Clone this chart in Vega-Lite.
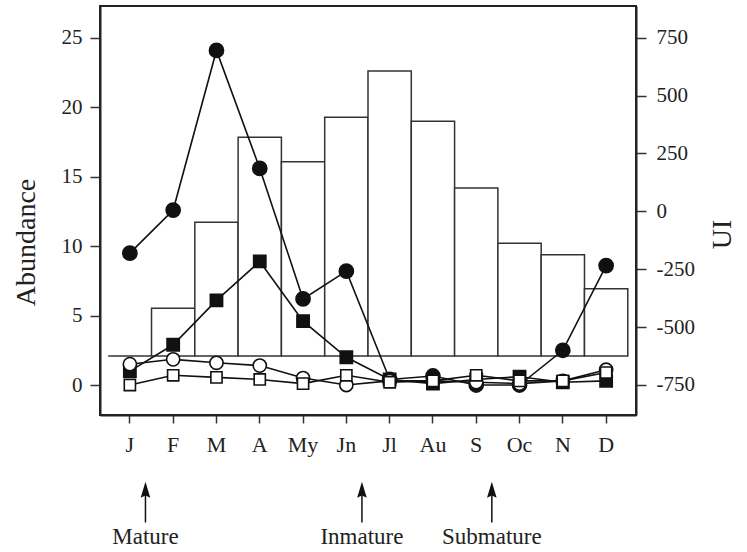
{
  "$schema": "https://vega.github.io/schema/vega-lite/v6.json",
  "width": 536,
  "height": 409,
  "autosize": {"type": "none"},
  "padding": {"left": 100, "top": 6, "right": 111, "bottom": 137},
  "config": {
    "font": "Liberation Serif",
    "view": {"stroke": "#222", "strokeWidth": 2},
    "axis": {
      "labelFont": "Liberation Serif",
      "titleFont": "Liberation Serif",
      "labelFontSize": 21,
      "titleFontSize": 28,
      "titleFontWeight": "normal",
      "labelColor": "#222",
      "titleColor": "#222",
      "domainColor": "#222",
      "domainWidth": 2,
      "tickColor": "#333",
      "tickWidth": 1.5,
      "tickSize": 10,
      "grid": false
    }
  },
  "datasets": {
    "bars": [
      {"month": "J", "UI": -625},
      {"month": "F", "UI": -419},
      {"month": "M", "UI": -47},
      {"month": "A", "UI": 320},
      {"month": "My", "UI": 214},
      {"month": "Jn", "UI": 406},
      {"month": "Jl", "UI": 606},
      {"month": "Au", "UI": 389},
      {"month": "S", "UI": 101},
      {"month": "Oc", "UI": -138},
      {"month": "N", "UI": -188},
      {"month": "D", "UI": -335}
    ],
    "pts": [
      {"month": "J", "series": "filled circle", "value": 9.5},
      {"month": "F", "series": "filled circle", "value": 12.6},
      {"month": "M", "series": "filled circle", "value": 24.1},
      {"month": "A", "series": "filled circle", "value": 15.6},
      {"month": "My", "series": "filled circle", "value": 6.2},
      {"month": "Jn", "series": "filled circle", "value": 8.2},
      {"month": "Jl", "series": "filled circle", "value": 0.4},
      {"month": "Au", "series": "filled circle", "value": 0.65},
      {"month": "S", "series": "filled circle", "value": 0.0},
      {"month": "Oc", "series": "filled circle", "value": 0.0},
      {"month": "N", "series": "filled circle", "value": 2.5},
      {"month": "D", "series": "filled circle", "value": 8.6},
      {"month": "J", "series": "open circle", "value": 1.5},
      {"month": "F", "series": "open circle", "value": 1.85},
      {"month": "M", "series": "open circle", "value": 1.6},
      {"month": "A", "series": "open circle", "value": 1.4},
      {"month": "My", "series": "open circle", "value": 0.5},
      {"month": "Jn", "series": "open circle", "value": 0.0},
      {"month": "Jl", "series": "open circle", "value": 0.3},
      {"month": "Au", "series": "open circle", "value": 0.3},
      {"month": "S", "series": "open circle", "value": 0.2},
      {"month": "Oc", "series": "open circle", "value": 0.1},
      {"month": "N", "series": "open circle", "value": 0.3},
      {"month": "D", "series": "open circle", "value": 1.1},
      {"month": "J", "series": "filled square", "value": 1.0},
      {"month": "F", "series": "filled square", "value": 2.9},
      {"month": "M", "series": "filled square", "value": 6.1},
      {"month": "A", "series": "filled square", "value": 8.9},
      {"month": "My", "series": "filled square", "value": 4.6},
      {"month": "Jn", "series": "filled square", "value": 2.0},
      {"month": "Jl", "series": "filled square", "value": 0.4},
      {"month": "Au", "series": "filled square", "value": 0.1},
      {"month": "S", "series": "filled square", "value": 0.4},
      {"month": "Oc", "series": "filled square", "value": 0.6},
      {"month": "N", "series": "filled square", "value": 0.2},
      {"month": "D", "series": "filled square", "value": 0.3},
      {"month": "J", "series": "open square", "value": 0.0},
      {"month": "F", "series": "open square", "value": 0.7},
      {"month": "M", "series": "open square", "value": 0.55},
      {"month": "A", "series": "open square", "value": 0.4},
      {"month": "My", "series": "open square", "value": 0.1},
      {"month": "Jn", "series": "open square", "value": 0.7},
      {"month": "Jl", "series": "open square", "value": 0.2},
      {"month": "Au", "series": "open square", "value": 0.3},
      {"month": "S", "series": "open square", "value": 0.7},
      {"month": "Oc", "series": "open square", "value": 0.3},
      {"month": "N", "series": "open square", "value": 0.3},
      {"month": "D", "series": "open square", "value": 0.9}
    ],
    "notes": [
      {"month": "J", "label": "Mature"},
      {"month": "Jn", "label": "Inmature"},
      {"month": "S", "label": "Submature"}
    ]
  },
  "layer": [
    {
      "data": {"name": "bars"},
      "mark": {"type": "bar", "fill": "white", "stroke": "#333", "strokeWidth": 1.5},
      "encoding": {
        "x": {
          "field": "month", "type": "nominal",
          "scale": {"type": "band", "domain": ["J", "F", "M", "A", "My", "Jn", "Jl", "Au", "S", "Oc", "N", "D"], "paddingInner": 0, "paddingOuter": 0.19},
          "axis": {"title": null, "labelAngle": 0, "tickSize": 8, "labelPadding": 11, "labelFontSize": 22}
        },
        "y": {
          "field": "UI", "type": "quantitative",
          "scale": {"domain": [-880, 887], "nice": false, "zero": false},
          "axis": {
            "orient": "right", "values": [-750, -500, -250, 0, 250, 500, 750],
            "labelExpr": "'' + datum.value",
            "title": "UI", "titleAngle": 270, "titleBaseline": "top", "titlePadding": 14,
            "titleY": 228,
            "labelPadding": 10
          }
        },
        "y2": {"datum": -625}
      }
    },
    {
      "layer": [
        {
          "data": {"name": "pts"},
          "mark": {"type": "line", "color": "#111", "strokeWidth": 1.6},
          "encoding": {
            "x": {"field": "month", "type": "nominal", "scale": {"domain": ["J", "F", "M", "A", "My", "Jn", "Jl", "Au", "S", "Oc", "N", "D"]}},
            "y": {
              "field": "value", "type": "quantitative",
              "scale": {"domain": [-2.16, 27.3], "nice": false, "zero": false},
              "axis": {"orient": "left", "values": [0, 5, 10, 15, 20, 25], "title": "Abundance", "labelPadding": 8, "titlePadding": 21, "titleY": 236}
            },
            "detail": {"field": "series"}
          }
        },
        {
          "data": {"name": "pts"},
          "mark": {"type": "point", "filled": true, "stroke": "#111", "strokeWidth": 1.6, "opacity": 1},
          "encoding": {
            "x": {"field": "month", "type": "nominal", "scale": {"domain": ["J", "F", "M", "A", "My", "Jn", "Jl", "Au", "S", "Oc", "N", "D"]}},
            "y": {"field": "value", "type": "quantitative"},
            "shape": {"field": "series", "type": "nominal", "legend": null,
              "scale": {"domain": ["filled circle", "open circle", "filled square", "open square"], "range": ["circle", "circle", "square", "square"]}},
            "fill": {"field": "series", "type": "nominal", "legend": null,
              "scale": {"domain": ["filled circle", "open circle", "filled square", "open square"], "range": ["#111", "white", "#111", "white"]}},
            "size": {"field": "series", "type": "nominal", "legend": null,
              "scale": {"domain": ["filled circle", "open circle", "filled square", "open square"], "range": [200, 125, 215, 145]}},
            "order": {"field": "series"}
          }
        },
        {
          "data": {"name": "notes"},
          "mark": {"type": "rule", "color": "#111", "strokeWidth": 1.5},
          "encoding": {
            "x": {"field": "month", "type": "nominal", "bandPosition": 0.86, "scale": {"domain": ["J", "F", "M", "A", "My", "Jn", "Jl", "Au", "S", "Oc", "N", "D"]}},
            "y": {"datum": -7.6},
            "y2": {"datum": -9.9}
          }
        },
        {
          "data": {"name": "notes"},
          "mark": {"type": "point", "filled": true, "color": "#111", "opacity": 1, "shape": "M0,-1L0.6,1L0,0.7L-0.6,1Z", "size": 256},
          "encoding": {
            "x": {"field": "month", "type": "nominal", "bandPosition": 0.86, "scale": {"domain": ["J", "F", "M", "A", "My", "Jn", "Jl", "Au", "S", "Oc", "N", "D"]}},
            "y": {"datum": -7.55}
          }
        },
        {
          "data": {"name": "notes"},
          "mark": {"type": "text", "fontSize": 23, "font": "Liberation Serif", "color": "#222", "align": "center", "baseline": "middle"},
          "encoding": {
            "x": {"field": "month", "type": "nominal", "bandPosition": 0.86, "scale": {"domain": ["J", "F", "M", "A", "My", "Jn", "Jl", "Au", "S", "Oc", "N", "D"]}},
            "y": {"datum": -10.95},
            "text": {"field": "label"}
          }
        }
      ]
    }
  ],
  "resolve": {"scale": {"y": "independent"}}
}
